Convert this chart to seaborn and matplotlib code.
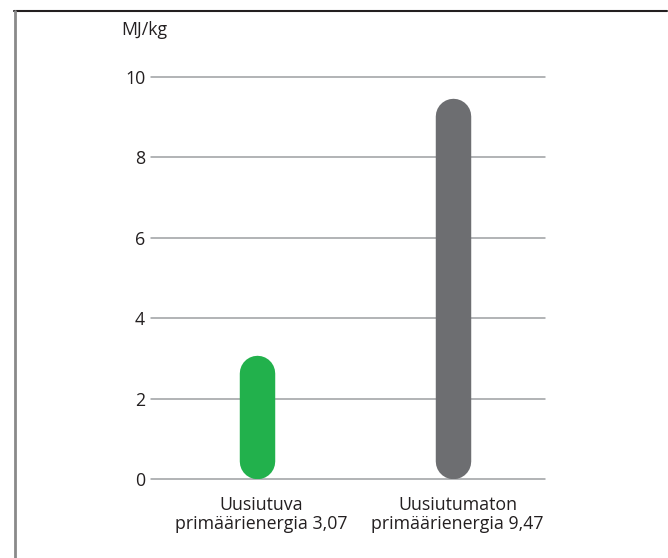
import matplotlib
matplotlib.use("Agg")
import matplotlib.pyplot as plt
import matplotlib.transforms as mtransforms
import seaborn as sns
import pandas as pd
from matplotlib.lines import Line2D

# Primary energy per kilogram, split into renewable and non-renewable
categories = ["Uusiutuva\nprimäärienergia 3,07", "Uusiutumaton\nprimäärienergia 9,47"]
values = [3.07, 9.47]
bar_colors = ["#22b14c", "#6d6e71"]
y_ticks = [0, 2, 4, 6, 8, 10]
unit_label = "MJ/kg"

sns.set_theme(style="white")
plt.rcParams["font.family"] = ["Open Sans", "DejaVu Sans"]
text_color = "#231f20"
font_size = 12.8

W, H = 668, 558
fig = plt.figure(figsize=(W / 100, H / 100), dpi=100)
ax = fig.add_axes([150.7 / W, 79 / H, (545 - 150.7) / W, (481 - 79) / H])

df = pd.DataFrame({"kategoria": categories, "arvo": values})
sns.barplot(data=df, x="kategoria", y="arvo", hue="kategoria", palette=bar_colors,
            width=0.181, saturation=1, legend=False, ax=ax)

xlim = (-0.541, 1.472)
ylim = (0, 10)
ax.set_xlim(*xlim)
ax.set_ylim(*ylim)

# Turn each bar into a pill: a thick stroke with round caps that spans
# exactly from the bar's base to its value
bbox = ax.get_position()
ax_w_px = bbox.width * W
ax_h_px = bbox.height * H
for p in list(ax.patches):
    x0, y0, w, h = p.get_x(), p.get_y(), p.get_width(), p.get_height()
    w_px = w / (xlim[1] - xlim[0]) * ax_w_px
    r_data = (w_px / 2) / ax_h_px * (ylim[1] - ylim[0])
    xc = x0 + w / 2
    ax.plot([xc, xc], [y0 + r_data, y0 + h - r_data], color=p.get_facecolor(),
            linewidth=w_px * 72 / 100, solid_capstyle="round", zorder=3)
    p.set_visible(False)

ax.set_yticks(y_ticks)
ax.set_yticklabels([str(t) for t in y_ticks])
ax.yaxis.grid(True, color="#9d9fa2", linewidth=1.1)
ax.xaxis.grid(False)
for gl in ax.get_ygridlines():
    gl.set_clip_on(False)
ax.set_axisbelow(True)
for s in ax.spines.values():
    s.set_visible(False)

ax.set_xlabel("")
ax.set_ylabel("")
ax.tick_params(axis="y", length=0, pad=4, labelsize=font_size, labelcolor=text_color)
ax.tick_params(axis="x", length=0, pad=12, labelsize=font_size, labelcolor=text_color)
shift = mtransforms.ScaledTranslation(5 / 100, 0, fig.dpi_scale_trans)
for lbl in ax.get_xticklabels():
    lbl.set_linespacing(1.1)
    lbl.set_transform(lbl.get_transform() + shift)

fig.text(121 / W, 1 - 30 / H, unit_label, ha="left", va="center",
         fontsize=font_size, color=text_color)

# Frame lines along the top and left edge
fig.add_artist(Line2D([14 / W, 667 / W], [1 - 11 / H, 1 - 11 / H],
                      transform=fig.transFigure, color=text_color, linewidth=1.5))
fig.add_artist(Line2D([15 / W, 15 / W], [1 - 11 / H, 0],
                      transform=fig.transFigure, color="#8a8a8a", linewidth=2))

fig.savefig("out.png", dpi=100)
